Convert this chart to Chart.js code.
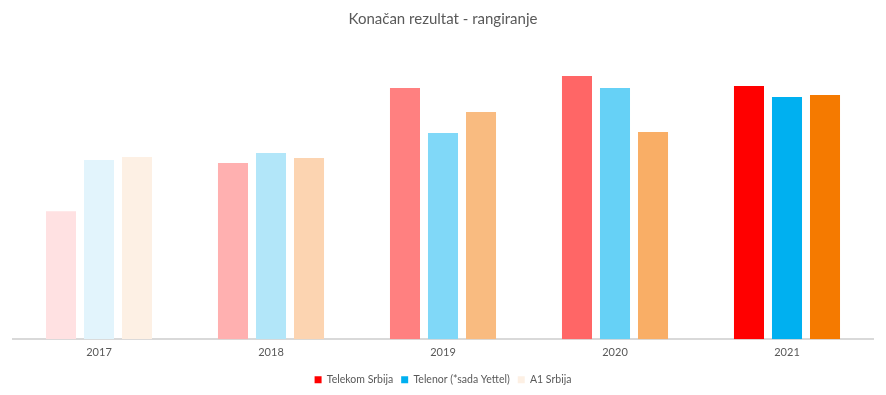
<!DOCTYPE html>
<html>
<head>
<meta charset="utf-8">
<script src="https://cdn.jsdelivr.net/npm/chart.js@4/dist/chart.umd.min.js"></script>
<style>
  html, body { margin: 0; padding: 0; background: #fff; }
  #wrap { width: 886px; height: 395px; }
</style>
</head>
<body>
<div id="wrap"><canvas id="c" width="886" height="395"></canvas></div>
<script>
const categories = ['2017', '2018', '2019', '2020', '2021'];
const seriesNames = ['Telekom Srbija', 'Telenor (*sada Yettel)', 'A1 Srbija'];
const telekom = [128, 176, 251, 263, 253];
const telenor = [179, 186, 206, 251, 242];
const a1 = [182, 181, 227, 207, 244];

const telekomColors = ['#FFE1E2', '#FFB0B0', '#FF8080', '#FF6666', '#FF0000'];
const telenorColors = ['#E2F4FC', '#B2E6F9', '#80D8F8', '#66D1F6', '#00B0F0'];
const a1Colors = ['#FDF0E4', '#FCD4B1', '#F9BB80', '#F9AE66', '#F57A00'];
const legendColors = ['#FF0000', '#00B0F0', '#FDF0E4'];

const font = "Lato, 'Open Sans', sans-serif";

new Chart(document.getElementById('c'), {
  type: 'bar',
  data: {
    labels: categories,
    datasets: [
      { label: seriesNames[0], data: telekom, backgroundColor: telekomColors },
      { label: seriesNames[1], data: telenor, backgroundColor: telenorColors },
      { label: seriesNames[2], data: a1, backgroundColor: a1Colors }
    ]
  },
  options: {
    responsive: false,
    animation: false,
    devicePixelRatio: 1,
    layout: { padding: { left: 13, right: 13, top: 0, bottom: 0 } },
    datasets: { bar: { categoryPercentage: 0.663, barPercentage: 0.79 } },
    plugins: {
      title: {
        display: true,
        text: 'Konačan rezultat - rangiranje',
        color: '#595959',
        font: { family: font, size: 15, weight: 'normal' },
        padding: { top: 10, bottom: 21 }
      },
      legend: {
        position: 'bottom',
        labels: {
          color: '#595959',
          font: { family: font, size: 10.5 },
          boxWidth: 7,
          boxHeight: 7,
          padding: 8,
          generateLabels: (chart) => chart.data.datasets.map((ds, i) => ({
            text: ds.label,
            fillStyle: legendColors[i],
            strokeStyle: legendColors[i],
            lineWidth: 0,
            hidden: false,
            datasetIndex: i,
            fontColor: '#595959'
          }))
        }
      },
      tooltip: { enabled: false }
    },
    scales: {
      x: {
        grid: { display: false, drawTicks: false },
        border: { display: true, color: '#D9D9D9', width: 2 },
        ticks: { color: '#595959', font: { family: font, size: 11 }, padding: 7 }
      },
      y: {
        display: false,
        min: 0,
        max: 290,
        grid: { display: false }
      }
    }
  }
});
</script>
</body>
</html>
